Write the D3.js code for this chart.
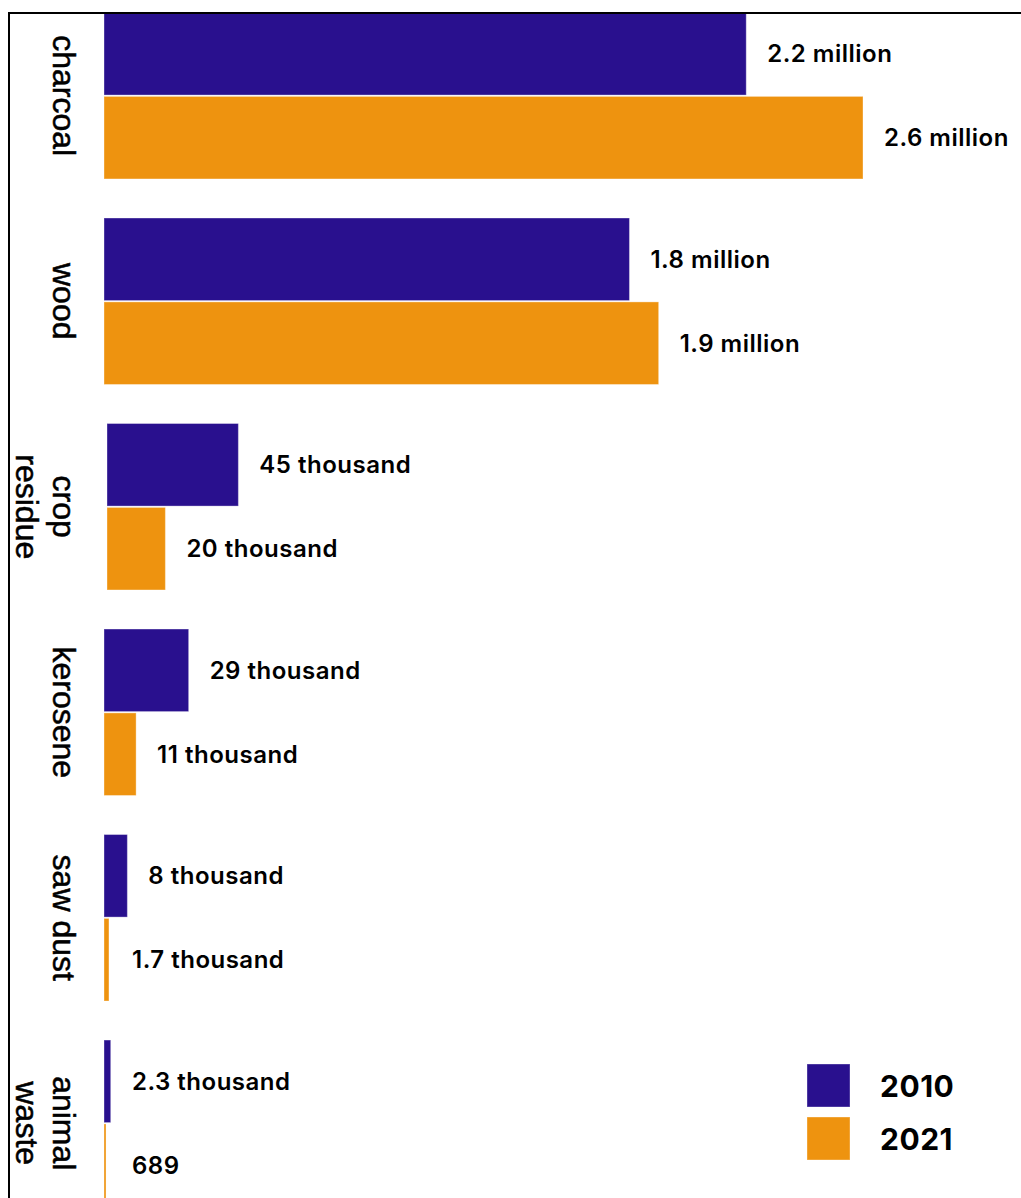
<!DOCTYPE html>
<html>
<head>
<meta charset="utf-8">
<script src="https://cdn.jsdelivr.net/npm/d3@7"></script>
<style>
  body { margin: 0; background: #fff; }
  svg { display: block; }
</style>
</head>
<body>
<div id="chart"></div>
<script>
var categories = ["charcoal", "wood", "crop residue", "kerosene", "saw dust", "animal waste"];
var categoryLines = [["charcoal"], ["wood"], ["crop", "residue"], ["kerosene"], ["saw dust"], ["animal", "waste"]];
var years = ["2010", "2021"];
var values2010 = [2200000, 1800000, 45000, 29000, 8000, 2300];
var values2021 = [2600000, 1900000, 20000, 11000, 1700, 689];
var labels2010 = ["2.2 million", "1.8 million", "45 thousand", "29 thousand", "8 thousand", "2.3 thousand"];
var labels2021 = ["2.6 million", "1.9 million", "20 thousand", "11 thousand", "1.7 thousand", "689"];
var units = ["million", "million", "thousand", "thousand", "thousand", "thousand"];

var svgW = 1021, svgH = 1198;
var colors = { "2010": "#29108e", "2021": "#ee930f" };
// the source chart draws the crop residue bars a few pixels to the right
var xShift = { "crop residue": 3 };

var svg = d3.select("#chart").append("svg")
  .attr("width", svgW).attr("height", svgH);

var y0 = d3.scaleBand().domain(categories).range([12.5, 1206.5]).paddingInner(0.19);
var y1 = d3.scaleBand().domain(years).range([0, y0.bandwidth()]).paddingInner(0.016);

// thousand-sized categories are drawn on a 10x magnified scale, as in the source
var xMillion = d3.scaleLinear().domain([0, 2600000]).range([104, 863]);
var xThousand = d3.scaleLinear().domain([0, 260000]).range([104, 863]);

var rows = [];
categories.forEach(function (c, i) {
  rows.push({ cat: c, year: "2010", value: values2010[i], label: labels2010[i], unit: units[i] });
  rows.push({ cat: c, year: "2021", value: values2021[i], label: labels2021[i], unit: units[i] });
});

function xs(d) { return d.unit === "million" ? xMillion : xThousand; }
function x0(d) { return xs(d)(0) + (xShift[d.cat] || 0); }
function x1(d) { return xs(d)(d.value) + (xShift[d.cat] || 0); }

var groups = svg.selectAll(".group").data(categories).enter().append("g")
  .attr("class", "group")
  .attr("transform", function (d) { return "translate(0," + y0(d) + ")"; });

groups.selectAll(".bar").data(function (c) {
  return rows.filter(function (r) { return r.cat === c; });
}).enter().append("rect")
  .attr("class", "bar")
  .attr("x", x0)
  .attr("y", function (d) { return y1(d.year); })
  .attr("width", function (d) { return x1(d) - x0(d); })
  .attr("height", y1.bandwidth())
  .attr("fill", function (d) { return colors[d.year]; })
  .attr("stroke", "#fff").attr("stroke-opacity", 0.35).attr("stroke-width", 1);

groups.selectAll(".val").data(function (c) {
  return rows.filter(function (r) { return r.cat === c; });
}).enter().append("text")
  .attr("class", "val")
  .attr("x", function (d) { return Math.max(x1(d) + 21, 132); })
  .attr("y", function (d) { return y1(d.year) + y1.bandwidth() / 2; })
  .attr("dominant-baseline", "central")
  .attr("font-family", "Inter, sans-serif")
  .attr("font-weight", 600)
  .attr("font-size", "24px")
  .attr("letter-spacing", "0.5px")
  .attr("fill", "#000")
  .text(function (d) { return d.label; });

// rotated category labels
var catLabel = svg.selectAll(".cat").data(categories).enter().append("text")
  .attr("class", "cat")
  .attr("transform", function (d) {
    return "translate(53," + (y0(d) + y0.bandwidth() / 2) + ") rotate(90)";
  })
  .attr("text-anchor", "middle")
  .attr("font-family", "'Liberation Sans', Arial, sans-serif")
  .attr("font-size", "32px")
  .attr("fill", "#000")
  .attr("stroke", "#000").attr("stroke-width", 0.5);

catLabel.selectAll("tspan").data(function (d, i) { return categoryLines[i]; })
  .enter().append("tspan")
  .attr("x", 0)
  .attr("dy", function (d, i) { return i === 0 ? 0 : 37; })
  .text(function (d) { return d; });

// frame lines
svg.append("line").attr("x1", 8).attr("x2", svgW).attr("y1", 13).attr("y2", 13)
  .attr("stroke", "#000").attr("stroke-width", 2);
svg.append("line").attr("x1", 9).attr("x2", 9).attr("y1", 12).attr("y2", svgH)
  .attr("stroke", "#000").attr("stroke-width", 2);

// legend
var legend = svg.append("g").attr("id", "legend");
legend.selectAll("rect").data(years).enter().append("rect")
  .attr("x", 807)
  .attr("y", function (d, i) { return 1064 + i * 53; })
  .attr("width", 43).attr("height", 43)
  .attr("fill", function (d) { return colors[d]; })
  .attr("stroke", "#fff").attr("stroke-opacity", 0.35).attr("stroke-width", 1);
legend.selectAll("text").data(years).enter().append("text")
  .attr("x", 880)
  .attr("y", function (d, i) { return 1086 + i * 53; })
  .attr("dominant-baseline", "central")
  .attr("font-family", "Inter, sans-serif")
  .attr("font-weight", 700)
  .attr("font-size", "30px")
  .attr("letter-spacing", "0.5px")
  .attr("fill", "#000")
  .text(function (d) { return d; });
</script>
</body>
</html>
